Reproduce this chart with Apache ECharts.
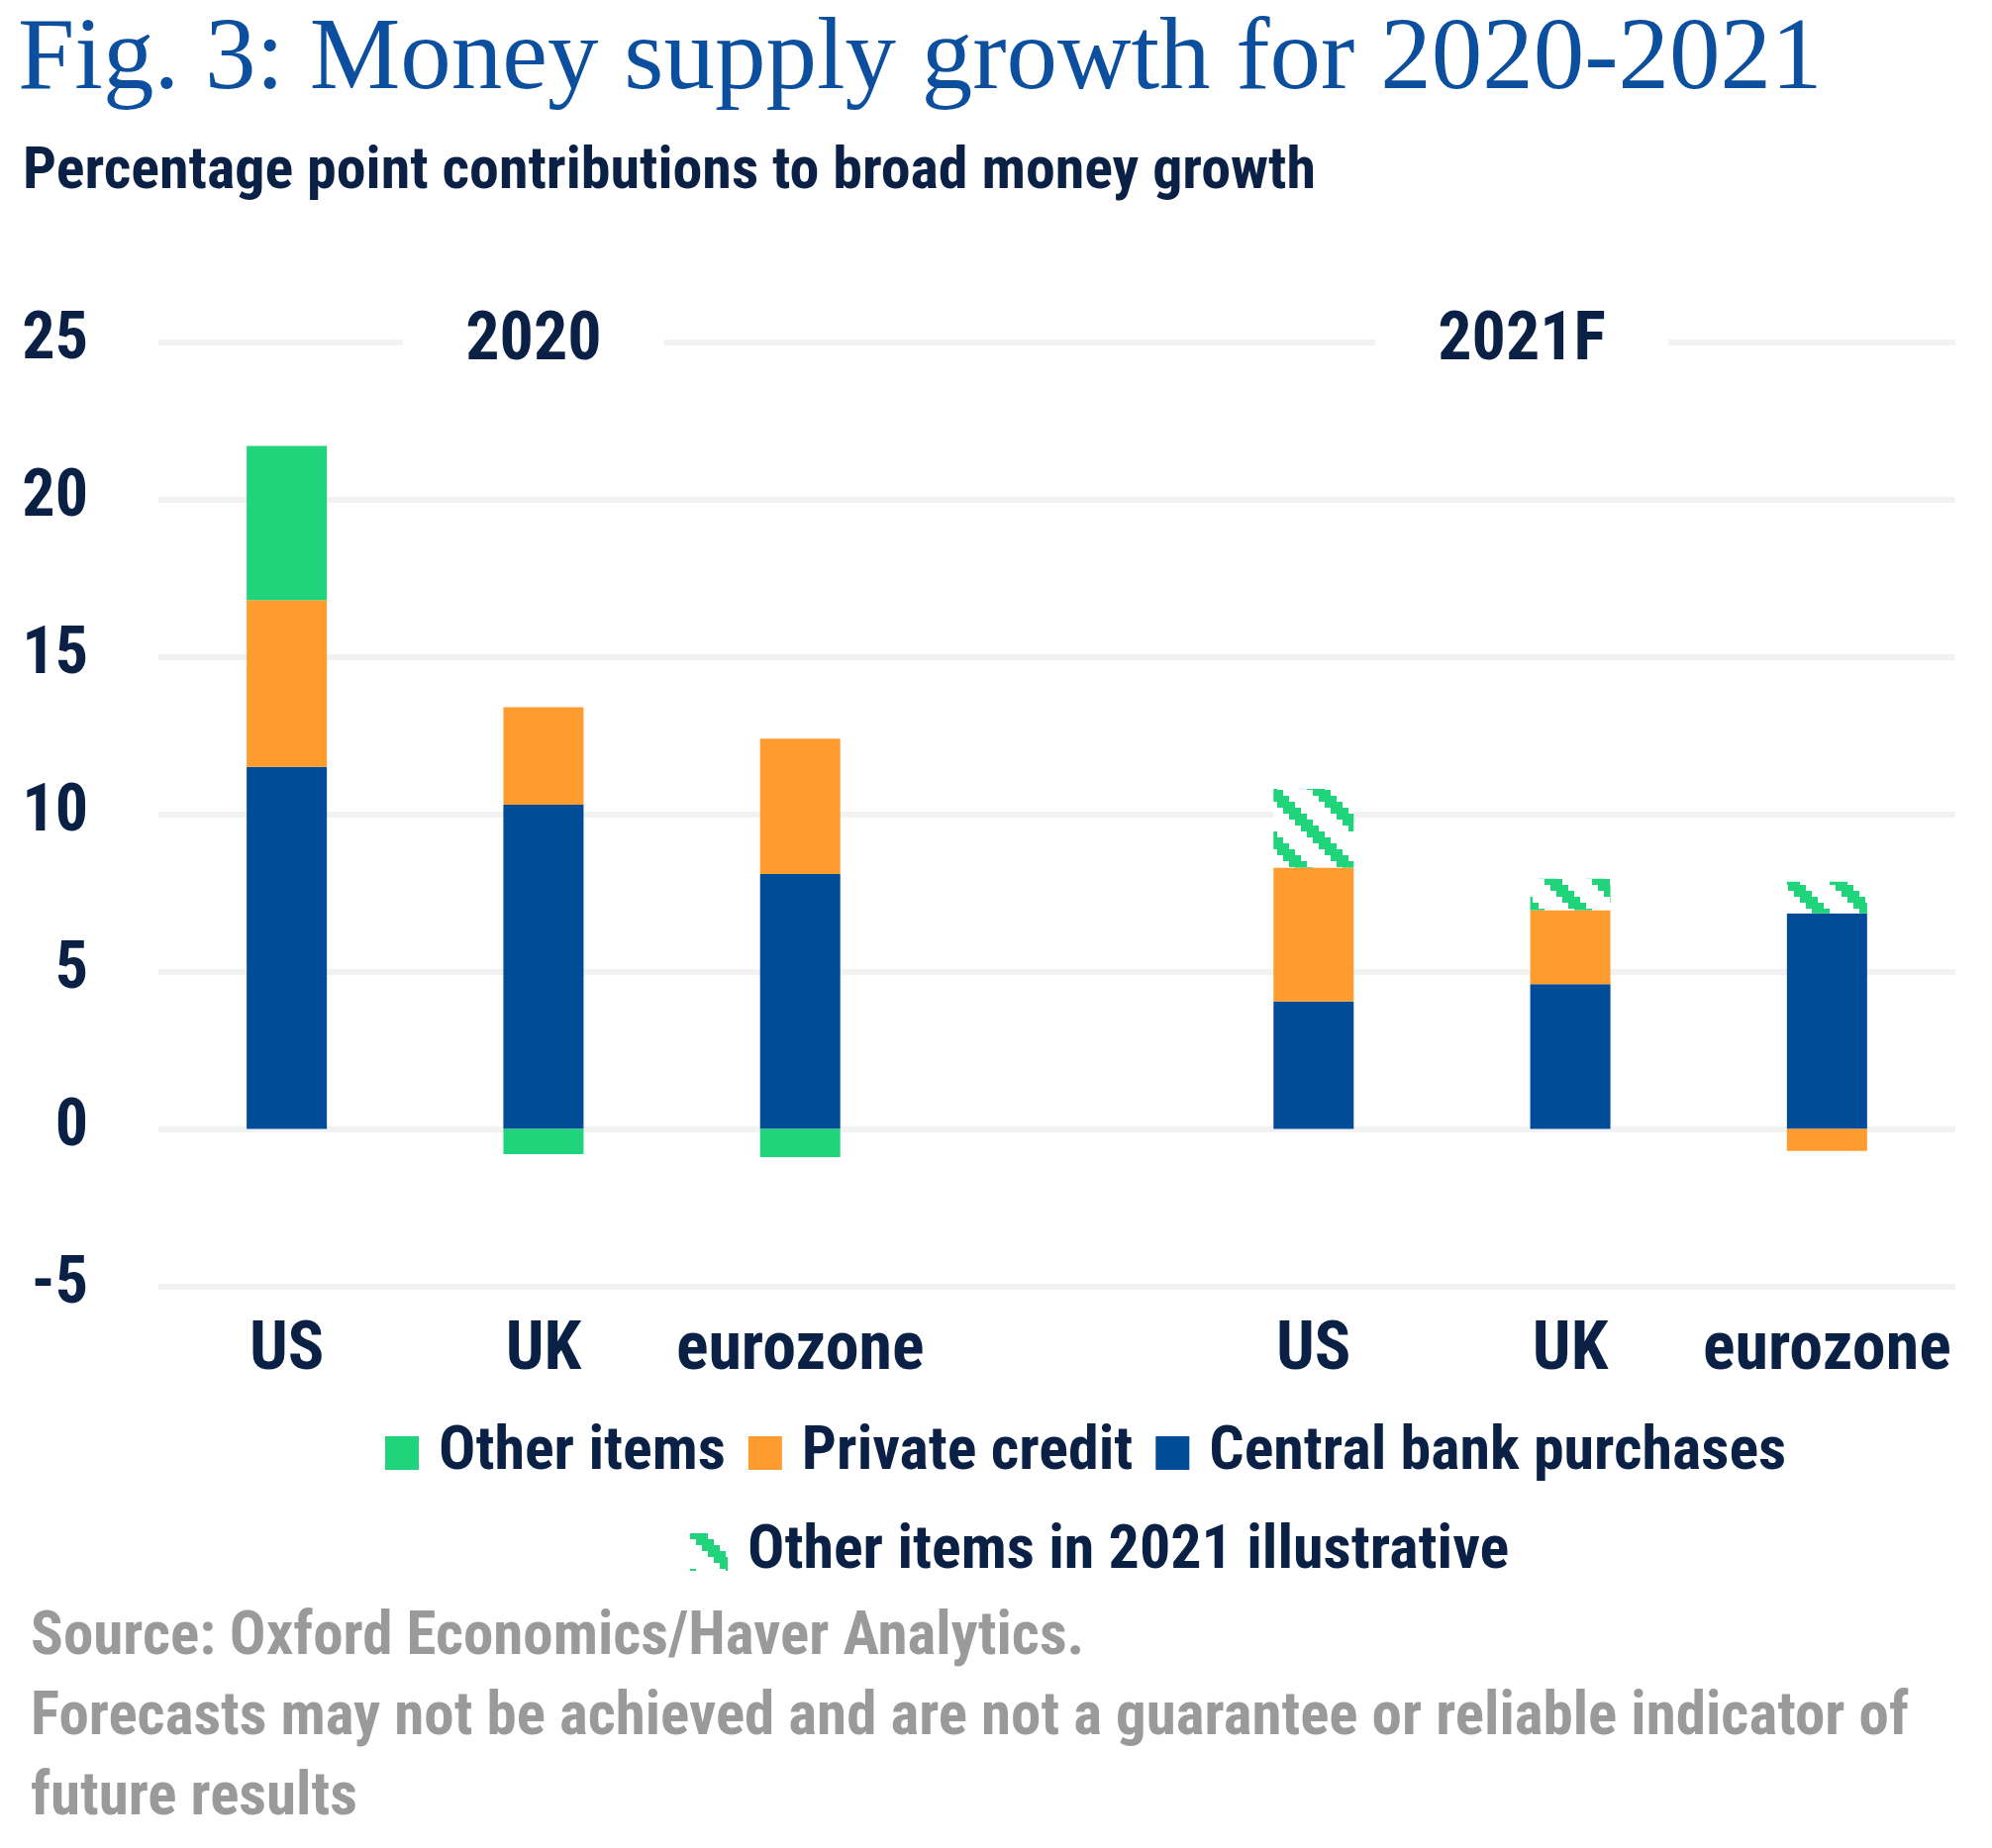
<!DOCTYPE html>
<html>
<head>
<meta charset="utf-8">
<script src="https://cdn.jsdelivr.net/npm/echarts@6/dist/echarts.min.js"></script>
<style>
  html, body { margin: 0; padding: 0; background: #fff; }
  #chart { width: 2012px; height: 1867px; }
</style>
</head>
<body>
<div id="chart"></div>
<script>
// categories, blank slot splits 2020 from 2021F
const categories = ['US', 'UK', 'eurozone', '', 'US', 'UK', 'eurozone'];
const centralBank = [11.5, 10.3, 8.1, null, 4.05, 4.6, 6.85];
const privateCredit = [5.3, 3.1, 4.3, null, 4.25, 2.35, -0.7];
const otherItems = [4.9, -0.8, -0.9, null, null, null, null];
const otherItems2021 = [null, null, null, null, 2.5, 1.0, 1.0];
const yearLabels = ['2020', '2021F'];
const yearLabelSlot = [1, 5];
const yTicks = [-5, 0, 5, 10, 15, 20, 25];

const NAVY = '#0b2045';
const GREEN = '#20d47c';
const ORANGE = '#ff9c2f';
const BLUE = '#004c98';
const FONT = '"Roboto Condensed", "DejaVu Sans Condensed", sans-serif';

// pixelated diagonal stripes for the illustrative 2021 items
function hatch() {
    const c = document.createElement('canvas');
    c.width = 48;
    c.height = 48;
    const ctx = c.getContext('2d');
    ctx.fillStyle = '#fff';
    ctx.fillRect(0, 0, 48, 48);
    ctx.fillStyle = GREEN;
    for (let i = 0; i < 8; i++) {
        for (let k = -1; k <= 1; k++) {
            ctx.fillRect(i * 6 + k * 48, i * 6, 18, 6);
        }
    }
    return c;
}

const chart = echarts.init(document.getElementById('chart'));

const legendText = {
    fontFamily: FONT, fontWeight: 'bold', fontSize: 62, color: NAVY,
    padding: [0, 0, 0, 15]
};

const option = {
    animation: false,
    backgroundColor: '#fff',
    title: [
        {
            text: 'Fig. 3: Money supply growth for 2020-2021',
            left: 13, top: 5,
            textStyle: { fontFamily: '"Liberation Serif", serif', fontWeight: 'normal', fontSize: 103, color: '#0c4f9e' }
        },
        {
            text: 'Percentage point contributions to broad money growth',
            left: 18, top: 140,
            textStyle: { fontFamily: FONT, fontWeight: 'bold', fontSize: 60, color: NAVY }
        },
        {
            text: 'Source: Oxford Economics/Haver Analytics.\nForecasts may not be achieved and are not a guarantee or reliable indicator of\nfuture results',
            left: 26, top: 1610,
            textStyle: { fontFamily: FONT, fontWeight: 'bold', fontSize: 61, lineHeight: 81, color: '#9a9a9a' }
        }
    ],
    legend: [
        {
            data: ['Other items', 'Private credit', 'Central bank purchases'],
            left: 384, top: 1432,
            icon: 'rect', itemWidth: 34, itemHeight: 34, itemGap: 23,
            textStyle: legendText
        },
        {
            data: ['Other items in 2021 illustrative'],
            left: 692, top: 1532,
            icon: 'rect', itemWidth: 38, itemHeight: 38,
            textStyle: legendText
        }
    ],
    grid: { left: 160, right: 37, top: 345.5, bottom: 567.5, outerBoundsMode: 'none' },
    xAxis: {
        type: 'category',
        data: categories,
        axisLine: { show: false },
        axisTick: { show: false },
        axisLabel: { fontFamily: FONT, fontWeight: 'bold', fontSize: 68, color: NAVY, margin: 32, interval: 0 }
    },
    yAxis: {
        type: 'value',
        min: yTicks[0], max: yTicks[yTicks.length - 1], interval: 5,
        axisLine: { show: false },
        axisTick: { show: false },
        axisLabel: { fontFamily: FONT, fontWeight: 'bold', fontSize: 66, color: NAVY, margin: 71 },
        splitLine: { lineStyle: { color: '#f2f2f2', width: 6 } }
    },
    series: [
        {
            name: 'Central bank purchases', type: 'bar', stack: 'total', barWidth: 81,
            itemStyle: { color: BLUE }, data: centralBank
        },
        {
            name: 'Private credit', type: 'bar', stack: 'total', barWidth: 81,
            itemStyle: { color: ORANGE }, data: privateCredit
        },
        {
            name: 'Other items', type: 'bar', stack: 'total', barWidth: 81,
            itemStyle: { color: GREEN }, data: otherItems
        },
        {
            name: 'Other items in 2021 illustrative', type: 'bar', stack: 'total', barWidth: 81,
            itemStyle: { color: { image: hatch(), repeat: 'repeat' } }, data: otherItems2021
        },
        {
            name: 'years', type: 'scatter', silent: true, symbolSize: 1,
            itemStyle: { color: 'rgba(0,0,0,0)', opacity: 1 },
            data: yearLabelSlot.map((x, i) => ({
                value: [x, yTicks[yTicks.length - 1]],
                name: yearLabels[i],
                label: { offset: [i === 0 ? -10 : -49, 0] }
            })),
            label: {
                show: true, position: 'inside', formatter: p => p.name,
                fontFamily: FONT, fontWeight: 'bold', fontSize: 68, color: NAVY,
                backgroundColor: '#fff', padding: [4, 63]
            },
            z: 5
        }
    ]
};

chart.setOption(option);
</script>
</body>
</html>
